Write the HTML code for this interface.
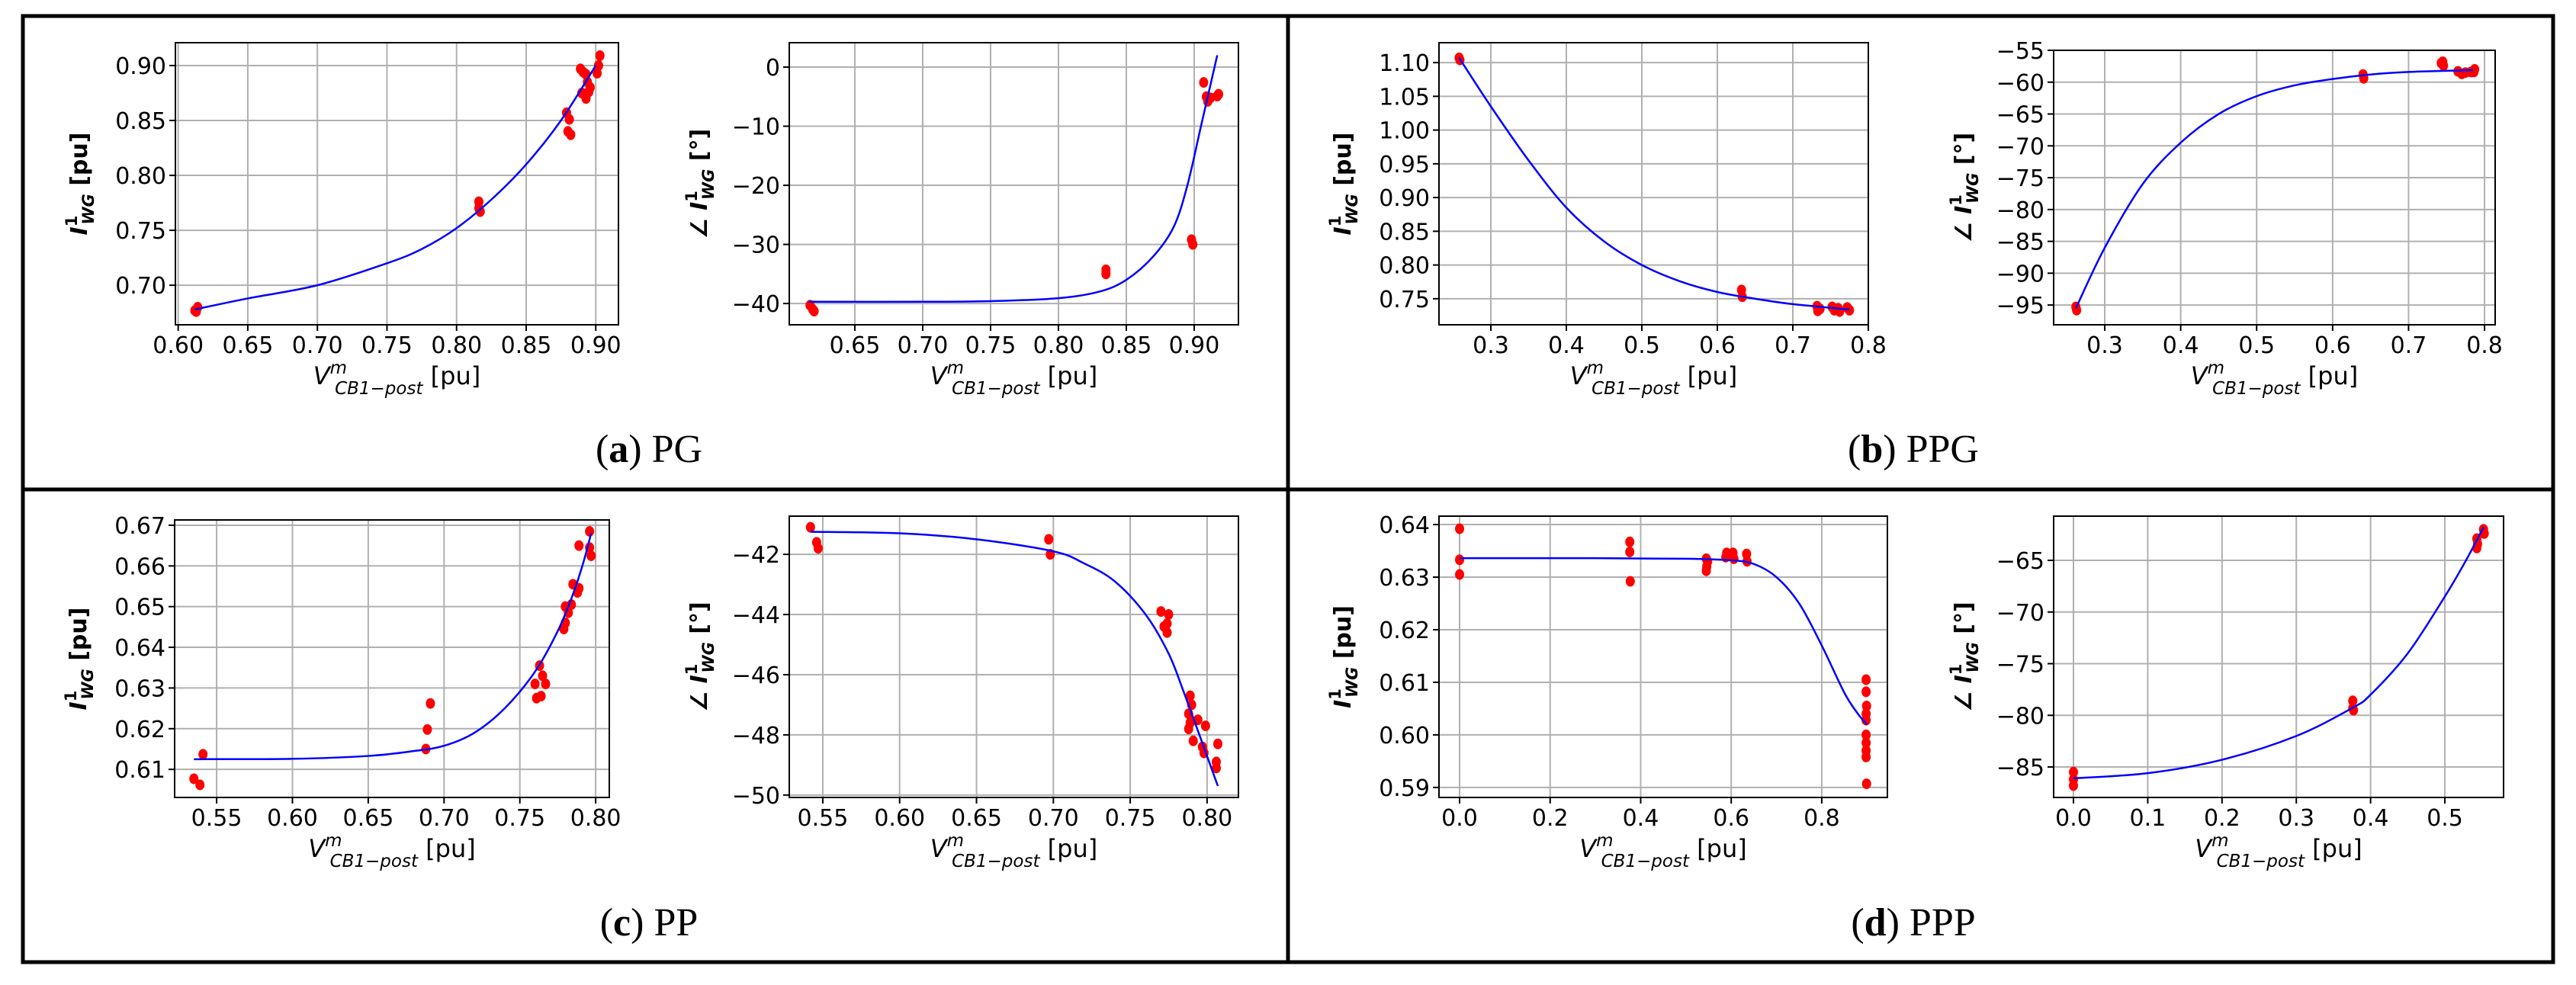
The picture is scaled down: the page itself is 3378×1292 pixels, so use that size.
<!DOCTYPE html>
<html><head><meta charset="utf-8">
<style>
html,body{margin:0;padding:0;background:#fff;}
svg{display:block;}
text{font-family:"DejaVu Sans","Liberation Sans",sans-serif;}
.cap{font-family:"Liberation Serif",serif;}
</style></head>
<body>
<svg id="fig" width="3378" height="1292" viewBox="0 0 3378 1292" xmlns="http://www.w3.org/2000/svg">
<rect x="0" y="0" width="3378" height="1292" fill="#fff"/>
<g fill="none" stroke="#000" stroke-width="5">
<rect x="30" y="21" width="3318" height="1241"/>
<line x1="30" y1="642" x2="3348" y2="642"/>
<line x1="1689" y1="21" x2="1689" y2="1262"/>
</g>
<text class="cap" x="851" y="606" font-size="52" text-anchor="middle">(<tspan font-weight="bold">a</tspan>) PG</text>
<text class="cap" x="2509" y="606" font-size="52" text-anchor="middle">(<tspan font-weight="bold">b</tspan>) PPG</text>
<text class="cap" x="851" y="1227" font-size="52" text-anchor="middle">(<tspan font-weight="bold">c</tspan>) PP</text>
<text class="cap" x="2509" y="1227" font-size="52" text-anchor="middle">(<tspan font-weight="bold">d</tspan>) PPP</text>
</svg>
<script>
// ---- Panel (a) PG, magnitude ----
const aMagXTicks=[0.60,0.65,0.70,0.75,0.80,0.85,0.90];
const aMagXLabels=["0.60","0.65","0.70","0.75","0.80","0.85","0.90"];
const aMagYTicks=[0.70,0.75,0.80,0.85,0.90];
const aMagYLabels=["0.70","0.75","0.80","0.85","0.90"];
const aMagCurveX=[0.612,0.65,0.70,0.75,0.775,0.80,0.825,0.85,0.875,0.90];
const aMagCurveY=[0.678,0.688,0.700,0.720,0.733,0.752,0.778,0.810,0.850,0.900];
const aMagPtsX=[0.612,0.614,0.613,0.816,0.816,0.817,0.879,0.881,0.880,0.882,0.889,0.891,0.893,0.894,0.895,0.893,0.896,0.901,0.902,0.903,0.890];
const aMagPtsY=[0.677,0.680,0.676,0.776,0.770,0.767,0.857,0.851,0.840,0.837,0.897,0.894,0.892,0.885,0.876,0.870,0.880,0.893,0.900,0.909,0.875];
// ---- Panel (a) PG, angle ----
const aAngXTicks=[0.65,0.70,0.75,0.80,0.85,0.90];
const aAngXLabels=["0.65","0.70","0.75","0.80","0.85","0.90"];
const aAngYTicks=[-40,-30,-20,-10,0];
const aAngYLabels=["\u221240","\u221230","\u221220","\u221210","0"];
const aAngCurveX=[0.616,0.70,0.75,0.80,0.83,0.85,0.87,0.885,0.895,0.905,0.912,0.917];
const aAngCurveY=[-39.7,-39.7,-39.6,-39.1,-38,-36,-32,-27,-20,-10,-3,2];
const aAngPtsX=[0.617,0.619,0.620,0.835,0.835,0.898,0.899,0.907,0.909,0.910,0.912,0.917,0.918];
const aAngPtsY=[-40.3,-41.0,-41.3,-34.3,-35.0,-29.2,-30.0,-2.6,-5.0,-5.8,-5.2,-4.9,-4.6];
// ---- Panel (b) PPG, magnitude ----
const bMagXTicks=[0.3,0.4,0.5,0.6,0.7,0.8];
const bMagXLabels=["0.3","0.4","0.5","0.6","0.7","0.8"];
const bMagYTicks=[0.75,0.80,0.85,0.90,0.95,1.00,1.05,1.10];
const bMagYLabels=["0.75","0.80","0.85","0.90","0.95","1.00","1.05","1.10"];
const bMagCurveX=[0.258,0.30,0.35,0.40,0.45,0.50,0.55,0.60,0.65,0.70,0.775];
const bMagCurveY=[1.107,1.035,0.955,0.885,0.835,0.800,0.776,0.760,0.750,0.742,0.734];
const bMagPtsX=[0.258,0.259,0.632,0.633,0.732,0.733,0.736,0.752,0.755,0.760,0.762,0.772,0.775];
const bMagPtsY=[1.107,1.104,0.763,0.753,0.739,0.732,0.735,0.738,0.733,0.736,0.731,0.737,0.733];
// ---- Panel (b) PPG, angle ----
const bAngXTicks=[0.3,0.4,0.5,0.6,0.7,0.8];
const bAngXLabels=["0.3","0.4","0.5","0.6","0.7","0.8"];
const bAngYTicks=[-95,-90,-85,-80,-75,-70,-65,-60,-55];
const bAngYLabels=["\u221295","\u221290","\u221285","\u221280","\u221275","\u221270","\u221265","\u221260","\u221255"];
const bAngCurveX=[0.262,0.30,0.35,0.40,0.45,0.50,0.55,0.60,0.65,0.70,0.785];
const bAngCurveY=[-95.5,-86,-76,-69.5,-65,-62.2,-60.5,-59.5,-58.8,-58.4,-58.1];
const bAngPtsX=[0.262,0.263,0.640,0.641,0.743,0.745,0.746,0.765,0.770,0.775,0.782,0.787,0.786];
const bAngPtsY=[-95.3,-95.8,-58.8,-59.4,-57.0,-56.8,-57.4,-58.3,-58.7,-58.5,-58.4,-58.0,-58.4];
// ---- Panel (c) PP, magnitude ----
const cMagXTicks=[0.55,0.60,0.65,0.70,0.75,0.80];
const cMagXLabels=["0.55","0.60","0.65","0.70","0.75","0.80"];
const cMagYTicks=[0.61,0.62,0.63,0.64,0.65,0.66,0.67];
const cMagYLabels=["0.61","0.62","0.63","0.64","0.65","0.66","0.67"];
const cMagCurveX=[0.535,0.60,0.65,0.68,0.70,0.72,0.74,0.76,0.775,0.785,0.792,0.797];
const cMagCurveY=[0.6125,0.6126,0.6133,0.6145,0.6158,0.619,0.625,0.634,0.644,0.653,0.661,0.668];
const cMagPtsX=[0.535,0.539,0.541,0.688,0.689,0.691,0.760,0.761,0.764,0.763,0.765,0.767,0.779,0.780,0.780,0.782,0.784,0.785,0.788,0.789,0.789,0.796,0.796,0.797];
const cMagPtsY=[0.6077,0.6062,0.6137,0.6150,0.6198,0.6262,0.6310,0.6275,0.6280,0.6355,0.6330,0.6310,0.6445,0.6460,0.6500,0.6485,0.6505,0.6555,0.6535,0.6545,0.6650,0.6685,0.6645,0.6625];
// ---- Panel (c) PP, angle ----
const cAngXTicks=[0.55,0.60,0.65,0.70,0.75,0.80];
const cAngXLabels=["0.55","0.60","0.65","0.70","0.75","0.80"];
const cAngYTicks=[-50,-48,-46,-44,-42];
const cAngYLabels=["\u221250","\u221248","\u221246","\u221244","\u221242"];
const cAngCurveX=[0.542,0.60,0.65,0.70,0.72,0.74,0.76,0.775,0.785,0.795,0.807];
const cAngCurveY=[-41.25,-41.3,-41.5,-41.9,-42.3,-42.9,-44.0,-45.3,-46.6,-48.0,-49.7];
const cAngPtsX=[0.542,0.546,0.547,0.697,0.698,0.770,0.772,0.774,0.775,0.774,0.789,0.790,0.788,0.789,0.788,0.791,0.794,0.797,0.799,0.798,0.807,0.806,0.806];
const cAngPtsY=[-41.1,-41.6,-41.8,-41.5,-42.0,-43.9,-44.4,-44.3,-44.0,-44.6,-46.7,-47.0,-47.3,-47.6,-47.8,-48.2,-47.5,-48.4,-47.7,-48.6,-48.3,-48.9,-49.1];
// ---- Panel (d) PPP, magnitude ----
const dMagXTicks=[0.0,0.2,0.4,0.6,0.8];
const dMagXLabels=["0.0","0.2","0.4","0.6","0.8"];
const dMagYTicks=[0.59,0.60,0.61,0.62,0.63,0.64];
const dMagYLabels=["0.59","0.60","0.61","0.62","0.63","0.64"];
const dMagCurveX=[0,0.3,0.5,0.6,0.65,0.7,0.75,0.8,0.85,0.88,0.9];
const dMagCurveY=[0.6336,0.6336,0.6335,0.6332,0.6325,0.630,0.625,0.617,0.608,0.604,0.602];
const dMagPtsX=[0,0,0,0.376,0.376,0.377,0.545,0.546,0.545,0.548,0.590,0.588,0.597,0.604,0.606,0.634,0.635,0.898,0.898,0.899,0.898,0.898,0.898,0.898,0.898,0.898,0.899];
const dMagPtsY=[0.6392,0.6333,0.6305,0.6367,0.6348,0.6292,0.6335,0.6320,0.6312,0.6330,0.6346,0.6338,0.6342,0.6346,0.6335,0.6344,0.6330,0.6105,0.6082,0.6055,0.6040,0.6028,0.6000,0.5985,0.5970,0.5958,0.5907];
// ---- Panel (d) PPP, angle ----
const dAngXTicks=[0.0,0.1,0.2,0.3,0.4,0.5];
const dAngXLabels=["0.0","0.1","0.2","0.3","0.4","0.5"];
const dAngYTicks=[-85,-80,-75,-70,-65];
const dAngYLabels=["\u221285","\u221280","\u221275","\u221270","\u221265"];
const dAngCurveX=[0,0.1,0.2,0.3,0.375,0.4,0.45,0.5,0.53,0.552];
const dAngCurveY=[-86.1,-85.6,-84.3,-82.0,-79.3,-78.0,-74.0,-68.5,-64.8,-61.8];
const dAngPtsX=[0,0,0,0.376,0.376,0.377,0.543,0.544,0.543,0.552,0.553];
const dAngPtsY=[-85.5,-86.2,-86.8,-78.6,-79.3,-79.5,-62.9,-63.4,-63.8,-62.0,-62.4];

const NS="http://www.w3.org/2000/svg";
const fig=document.getElementById('fig');
function mk(tag,attrs,parent){const e=document.createElementNS(NS,tag);for(const k in attrs)e.setAttribute(k,attrs[k]);(parent||fig).appendChild(e);return e;}

function drawPlot(id,box,xd,yd,xt,xl,yt,yl,cx,cy,px,py,angle){
  const g=mk('g',{});
  
  
  const sx=v=>box.x+(v-xd[0])/(xd[1]-xd[0])*box.w;
  const sy=v=>box.y+box.h-(v-yd[0])/(yd[1]-yd[0])*box.h;
  xt.forEach((t,i)=>{const X=sx(t);
    const l=mk('line',{x1:X,y1:box.y,x2:X,y2:box.y+box.h,stroke:'#b0b0b0','stroke-width':2},g);
    
    
    mk('line',{x1:X,y1:box.y+box.h,x2:X,y2:box.y+box.h+8,stroke:'#000','stroke-width':2},g);
    const tx=mk('text',{x:X,y:box.y+box.h+37,'font-size':30,'text-anchor':'middle'},g);
    tx.textContent=xl[i];
    
    
  });
  yt.forEach((t,i)=>{const Y=sy(t);
    const l=mk('line',{x1:box.x,y1:Y,x2:box.x+box.w,y2:Y,stroke:'#b0b0b0','stroke-width':2},g);
    
    
    mk('line',{x1:box.x-8,y1:Y,x2:box.x,y2:Y,stroke:'#000','stroke-width':2},g);
    const tx=mk('text',{x:box.x-12,y:Y+11,'font-size':30,'text-anchor':'end'},g);
    tx.textContent=yl[i];
    
    
  });
  const P=cx.map((v,i)=>[sx(v),sy(cy[i])]);
  let d='M'+P[0][0]+','+P[0][1];
  for(let i=0;i<P.length-1;i++){const p0=P[i-1]||P[i],p1=P[i],p2=P[i+1],p3=P[i+2]||P[i+1];
    d+=' C'+(p1[0]+(p2[0]-p0[0])/6)+','+(p1[1]+(p2[1]-p0[1])/6)+' '+(p2[0]-(p3[0]-p1[0])/6)+','+(p2[1]-(p3[1]-p1[1])/6)+' '+p2[0]+','+p2[1];}
  px.forEach((v,i)=>{const c=mk('ellipse',{cx:sx(v),cy:sy(py[i]),rx:6,ry:7,fill:'#ff0000'},g);
    
    
  });
  const path=mk('path',{d:d,fill:'none',stroke:'#0000ff','stroke-width':2.5},g);
  
  
  const fr=mk('rect',{x:box.x,y:box.y,width:box.w,height:box.h,fill:'none',stroke:'#000','stroke-width':2},g);
  
  
  const xlab=mk('text',{x:box.x+box.w/2,y:box.y+box.h+78,'font-size':32,'text-anchor':'middle'},g);
  xlab.innerHTML='<tspan font-style="italic">V</tspan><tspan font-style="italic" font-size="23" dy="-14">m</tspan><tspan font-style="italic" font-size="23" dx="-16" dy="27">CB1\u2212post</tspan><tspan dy="-13"> [pu]</tspan>';
  
  
  const lx=box.x-(angle?108:116), ly=box.y+box.h/2;
  const ylab=mk('text',{x:lx,y:ly,'font-size':30,'font-weight':'bold','text-anchor':'middle',transform:'rotate(-90 '+lx+' '+ly+')'},g);
  ylab.innerHTML=(angle?'\u2220 ':'')+'<tspan font-style="italic">I</tspan><tspan font-size="21" dy="-13">1</tspan><tspan font-style="italic" font-size="21" dx="-12" dy="22">WG</tspan><tspan dy="-9"> ['+(angle?'\u00b0':'pu')+']</tspan>';
  
  
}
drawPlot('pg-magnitude',{x:230,y:56,w:581,h:370},[0.598,0.9163],[0.664,0.9208],aMagXTicks,aMagXLabels,aMagYTicks,aMagYLabels,aMagCurveX,aMagCurveY,aMagPtsX,aMagPtsY,false);
drawPlot('pg-angle',{x:1035,y:56,w:589,h:370},[0.6017,0.9326],[-43.6,4.13],aAngXTicks,aAngXLabels,aAngYTicks,aAngYLabels,aAngCurveX,aAngCurveY,aAngPtsX,aAngPtsY,true);
drawPlot('ppg-magnitude',{x:1887,y:56,w:563,h:370},[0.2313,0.8],[0.7114,1.1295],bMagXTicks,bMagXLabels,bMagYTicks,bMagYLabels,bMagCurveX,bMagCurveY,bMagPtsX,bMagPtsY,false);
drawPlot('ppg-angle',{x:2693,y:66,w:579,h:360},[0.2327,0.814],[-98.1,-55],bAngXTicks,bAngXLabels,bAngYTicks,bAngYLabels,bAngCurveX,bAngCurveY,bAngPtsX,bAngPtsY,true);
drawPlot('pp-magnitude',{x:229,y:682,w:570,h:364},[0.5223,0.809],[0.6031,0.6713],cMagXTicks,cMagXLabels,cMagYTicks,cMagYLabels,cMagCurveX,cMagCurveY,cMagPtsX,cMagPtsY,false);
drawPlot('pp-angle',{x:1035,y:677,w:589,h:369},[0.5282,0.8204],[-50.08,-40.73],cAngXTicks,cAngXLabels,cAngYTicks,cAngYLabels,cAngCurveX,cAngCurveY,cAngPtsX,cAngPtsY,true);
drawPlot('ppp-magnitude',{x:1887,y:677,w:588,h:369},[-0.0455,0.945],[0.5881,0.6416],dMagXTicks,dMagXLabels,dMagYTicks,dMagYLabels,dMagCurveX,dMagCurveY,dMagPtsX,dMagPtsY,false);
drawPlot('ppp-angle',{x:2693,y:677,w:590,h:369},[-0.0267,0.579],[-87.95,-60.72],dAngXTicks,dAngXLabels,dAngYTicks,dAngYLabels,dAngCurveX,dAngCurveY,dAngPtsX,dAngPtsY,true);
</script>
</body></html>
